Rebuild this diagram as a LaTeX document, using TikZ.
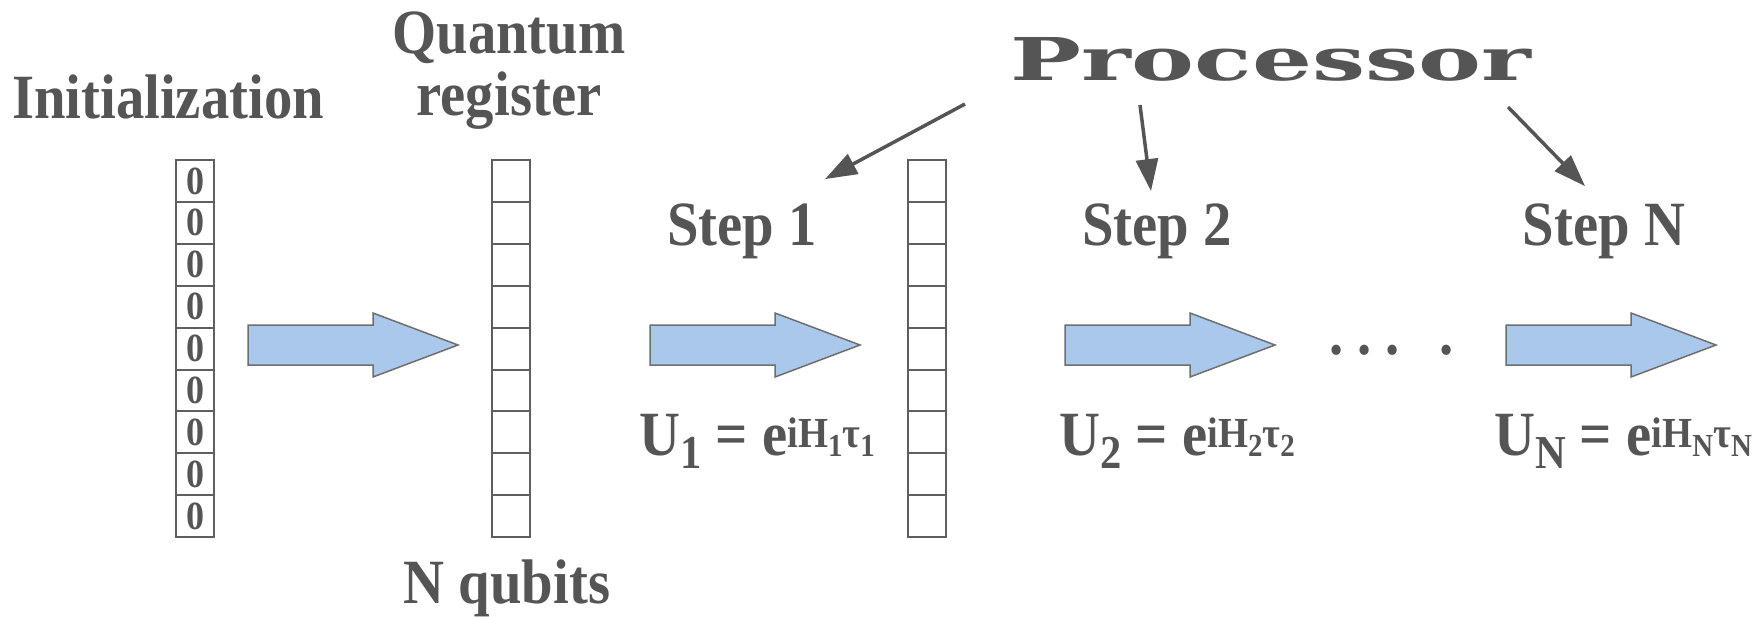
\documentclass[tikz,border=0pt]{standalone}
\usepackage{fontspec}
\setmainfont{Liberation Serif}[
  UprightFont={Liberation Serif},
  BoldFont={Liberation Serif Bold},
  FakeStretch=0.9]
\newfontfamily\procfont{DejaVu Serif}[BoldFont={DejaVu Serif Bold}, FakeStretch=1.6]
\usepackage{graphicx}
\usepackage{tikz}
\usetikzlibrary{arrows.meta}

\definecolor{inkgray}{RGB}{85,85,85}
\definecolor{cellgray}{RGB}{95,95,95}
\definecolor{arrowblue}{RGB}{170,200,235}
\definecolor{arrowedge}{RGB}{110,110,110}

\newcommand\lo[1]{\raisebox{-0.22em}{\scalebox{0.75}{#1}}}
\newcommand\hi[1]{\raisebox{0.12em}{\scalebox{0.68}{#1}}}

\begin{document}
\begin{tikzpicture}[x=1pt, y=-1pt,
    heading/.style={font=\fontsize{63}{62}\selectfont\bfseries, text=inkgray, inner sep=0pt},
    cell/.style={draw=cellgray, line width=2pt, minimum width=38pt, minimum height=41.9pt, inner sep=0pt, font=\fontsize{40}{40}\selectfont\bfseries, text=inkgray},
    feed/.style={-{Triangle[length=32pt, width=22pt]}, line width=3.5pt, draw=inkgray},
    blockarrow/.pic={
      \filldraw[fill=arrowblue, draw=arrowedge, line width=1.5pt]
        (0,-20) -- (125,-20) -- (125,-32) -- (210,0) -- (125,32) -- (125,20) -- (0,20) -- cycle;
    },
]
  \useasboundingbox (0,0) rectangle (1760,616);

  % Registers
  \foreach \k in {0,...,8} {
    \node[cell] (ini\k) at (195, 180.95+41.9*\k) {0};
    \node[cell] (reg\k) at (511, 180.95+41.9*\k) {};
    \node[cell] (out\k) at (927, 180.95+41.9*\k) {};
  }

  % Labels (left)
  \node[heading, anchor=base] (init) at (168,118) {Initialization};
  \node[heading, align=center, anchor=north] (qreg) at (509,12) {Quantum\\register};
  \node[heading, anchor=base] (nq) at (507,603) {N qubits};

  % Processor and steps
  \node[font=\procfont\fontsize{59}{59}\selectfont\bfseries, text=inkgray, inner sep=0pt, anchor=base] (proc) at (1271,80) {Processor};
  \node[heading, anchor=base] (s1) at (742,245) {Step 1};
  \node[heading, anchor=base] (s2) at (1157,245) {Step 2};
  \node[heading, anchor=base] (sN) at (1604,245) {Step N};

  \coordinate (p1) at (965,104);
  \coordinate (p2) at (1140,105);
  \coordinate (pN) at (1508,107);
  \draw[feed] (p1) -- ([shift={(83,-24)}]s1.north);
  \draw[feed] (p2) -- ([shift={(-6,-12)}]s2.north);
  \draw[feed] (pN) -- ([shift={(-19,-17)}]sN.north);

  % Evolution arrows
  \pic (a0) at (248,345) {blockarrow};
  \pic (a1) at (650,345) {blockarrow};
  \pic (a2) at (1065,345) {blockarrow};
  \pic (aN) at (1506,345) {blockarrow};

  \node[heading, anchor=west] (dots) at (1329,350) {.\hspace{14pt}.\hspace{14pt}.};
  \node[heading] (dot) at (1447,350) {.};

  % Unitaries
  \node[heading, anchor=base] (u1) at (757,455) {U\lo{1} = e\hi{iH\lo{1}τ\lo{1}}};
  \node[heading, anchor=base] (u2) at (1177,455) {U\lo{2} = e\hi{iH\lo{2}τ\lo{2}}};
  \node[heading, anchor=base] (uN) at (1623,455) {U\lo{N} = e\hi{iH\lo{N}τ\lo{N}}};
\end{tikzpicture}
\end{document}
